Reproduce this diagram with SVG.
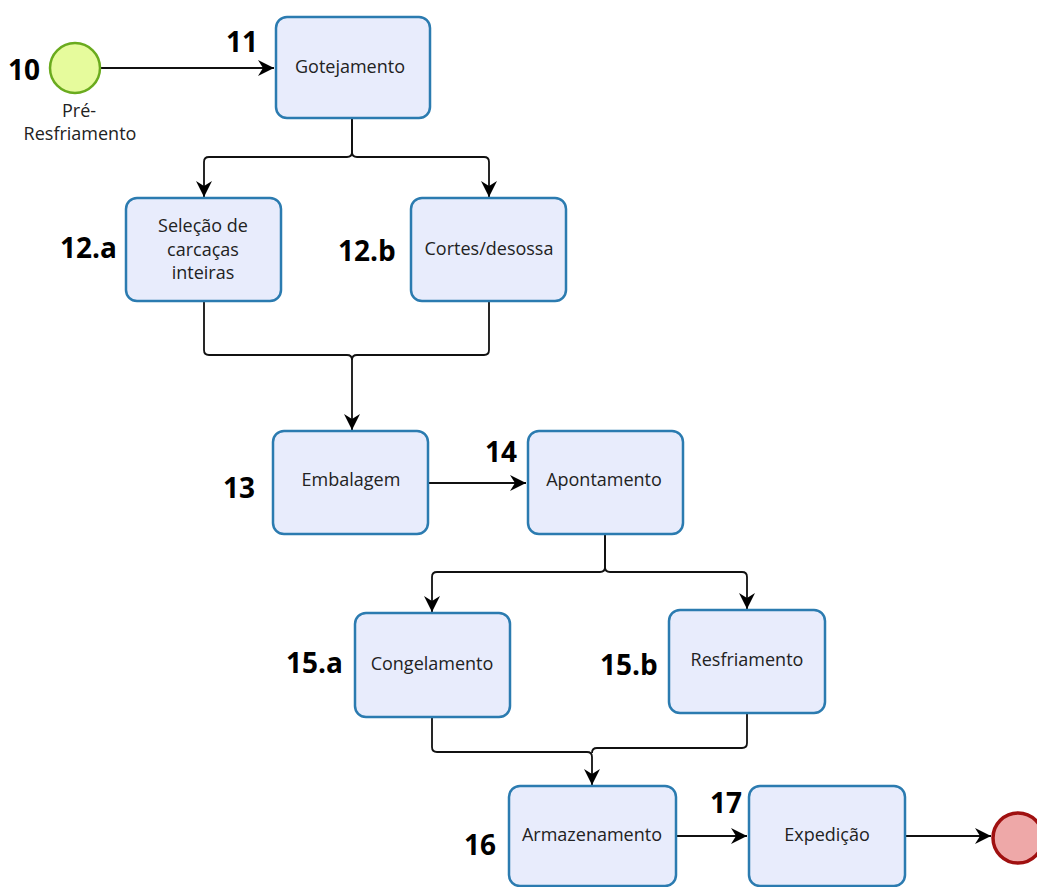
<svg xmlns="http://www.w3.org/2000/svg" width="1037" height="887" viewBox="0 0 1037 887">
<defs>
<marker id="arr" markerUnits="userSpaceOnUse" markerWidth="18" markerHeight="18" refX="16" refY="8" orient="auto">
<path d="M0,0 L16,8 L0,16 L5,8 z" fill="#000"/>
</marker>
<style>
.box{fill:#e8ecfc;stroke:#2b7bb0;stroke-width:2.5}
.lbl{font-family:"Open Sans","Noto Sans",sans-serif;font-size:18px;fill:#222;text-anchor:middle}
.num{font-family:"Open Sans","Noto Sans",sans-serif;font-size:28px;font-weight:bold;fill:#000}
.con{fill:none;stroke:#111;stroke-width:1.8}
</style>
</defs>
<rect width="1037" height="887" fill="#fff"/>
<g id="connectors">
<path class="con" d="M101,68 H274" marker-end="url(#arr)"/>
<path class="con" d="M352,118 V152 Q352,157 347,157 H209 Q204,157 204,162 V197" marker-end="url(#arr)"/>
<path class="con" d="M352,118 V152 Q352,157 357,157 H484 Q489,157 489,162 V197" marker-end="url(#arr)"/>
<path class="con" d="M204,301 V350 Q204,355 209,355 H347 Q352,355 352,360 V430" marker-end="url(#arr)"/>
<path class="con" d="M489,301 V350 Q489,355 484,355 H357 Q352,355 352,360"/>
<path class="con" d="M428,483 H526" marker-end="url(#arr)"/>
<path class="con" d="M605,534 V567 Q605,572 600,572 H437 Q432,572 432,577 V612" marker-end="url(#arr)"/>
<path class="con" d="M605,534 V567 Q605,572 610,572 H742 Q747,572 747,577 V609" marker-end="url(#arr)"/>
<path class="con" d="M432,717 V747 Q432,752 437,752 H587 Q592,752 592,757 V785" marker-end="url(#arr)"/>
<path class="con" d="M747,713 V743 Q747,748 742,748 H597 Q592,748 592,753"/>
<path class="con" d="M677,836 H747" marker-end="url(#arr)"/>
<path class="con" d="M905,836 H991" marker-end="url(#arr)"/>
</g>
<g id="n10">
<circle cx="75" cy="68" r="25" fill="#e6fb9c" stroke="#6aab1e" stroke-width="2.5"/>
<text class="num" x="8" y="80">10</text>
<text class="lbl" x="79" y="117">Pré-</text>
<text class="lbl" x="80" y="140">Resfriamento</text>
</g>
<g id="n11">
<rect class="box" x="276" y="17" width="154" height="101" rx="11"/>
<text class="num" x="226" y="52">11</text>
<text class="lbl" x="350" y="73">Gotejamento</text>
</g>
<g id="n12a">
<rect class="box" x="126" y="198" width="155" height="103" rx="11"/>
<text class="num" x="60" y="258">12.a</text>
<text class="lbl" x="203" y="232">Seleção de</text>
<text class="lbl" x="203" y="256">carcaças</text>
<text class="lbl" x="203" y="279">inteiras</text>
</g>
<g id="n12b">
<rect class="box" x="411" y="198" width="155" height="103" rx="11"/>
<text class="num" x="338" y="261">12.b</text>
<text class="lbl" x="489" y="255">Cortes/desossa</text>
</g>
<g id="n13">
<rect class="box" x="273" y="431" width="155" height="103" rx="11"/>
<text class="num" x="223" y="498">13</text>
<text class="lbl" x="351" y="486">Embalagem</text>
</g>
<g id="n14">
<rect class="box" x="528" y="431" width="155" height="103" rx="11"/>
<text class="num" x="485" y="462">14</text>
<text class="lbl" x="604" y="486">Apontamento</text>
</g>
<g id="n15a">
<rect class="box" x="355" y="613" width="155" height="104" rx="11"/>
<text class="num" x="286" y="673">15.a</text>
<text class="lbl" x="432" y="670">Congelamento</text>
</g>
<g id="n15b">
<rect class="box" x="669" y="610" width="156" height="103" rx="11"/>
<text class="num" x="600" y="675">15.b</text>
<text class="lbl" x="747" y="666">Resfriamento</text>
</g>
<g id="n16">
<rect class="box" x="509" y="786" width="167" height="100" rx="11"/>
<text class="num" x="464" y="855">16</text>
<text class="lbl" x="592" y="841">Armazenamento</text>
</g>
<g id="n17">
<rect class="box" x="749" y="786" width="156" height="100" rx="11"/>
<text class="num" x="710" y="813">17</text>
<text class="lbl" x="827" y="841">Expedição</text>
</g>
<g id="end">
<circle cx="1018" cy="838" r="25" fill="#eea8a8" stroke="#a01010" stroke-width="3.5"/>
</g>
</svg>
